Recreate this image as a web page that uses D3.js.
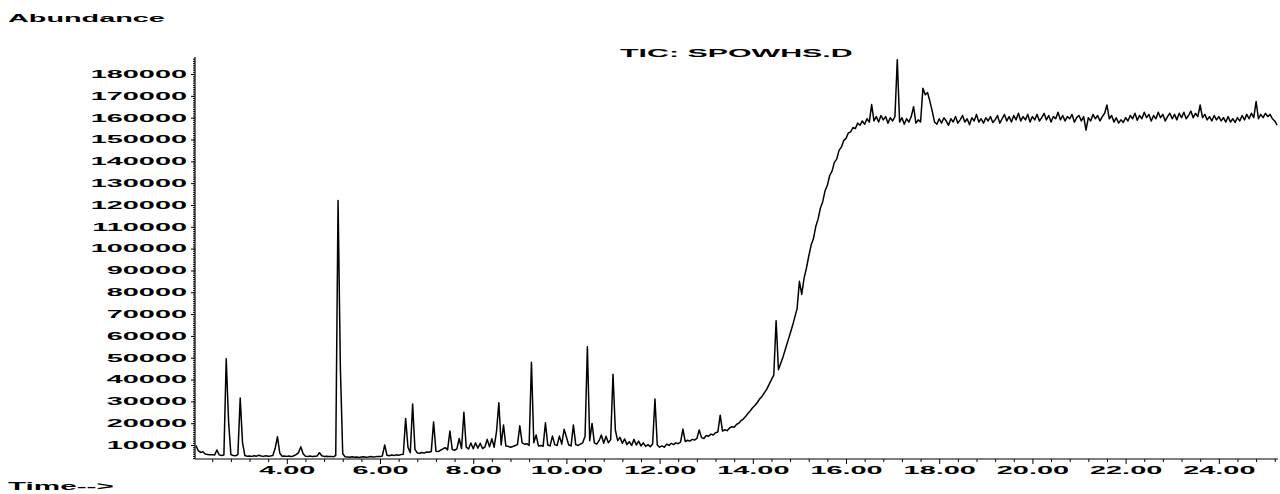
<!DOCTYPE html>
<html>
<head>
<meta charset="utf-8">
<script src="https://cdn.jsdelivr.net/npm/d3@7/dist/d3.min.js"></script>
<style>
  html, body { margin: 0; padding: 0; background: #fff; }
  svg { display: block; }
  text { font-family: "Liberation Sans", Arial, sans-serif; font-weight: bold; fill: #000; }
</style>
</head>
<body>
<svg id="chart" width="1280" height="494"></svg>
<script>
// Total ion chromatogram, one abundance reading per scan (minutes)
const retentionStart = 2.05;
const scanInterval = 0.05;

const abundance = [
  // 2.05 – 3.00
  9800, 7400, 6600, 6900, 5900, 5700, 5500, 5600, 5400, 7700, 5500, 5200, 5400, 49500, 21000, 5600, 5200, 5100, 5600, 31500,
  // 3.05 – 4.00
  11000, 5200, 4900, 5000, 4800, 5100, 4900, 5300, 5000, 4800, 5100, 4900, 5000, 5200, 8500, 13800, 6200, 4900, 5000, 4800,
  // 4.05 – 5.00
  5000, 4700, 5100, 5600, 6500, 9200, 6000, 4900, 4800, 5000, 4700, 4900, 5000, 6500, 5100, 4800, 4900, 4700, 4800, 4600,
  // 5.05 – 6.00
  5200, 122000, 45000, 6000, 4600, 4500, 4400, 4600, 4400, 4500, 4300, 4500, 4600, 4400, 4500, 4700, 4500, 4600, 4800, 4700,
  // 6.05 – 7.00
  5000, 10000, 5300, 5100, 5400, 5200, 5500, 5300, 5600, 5800, 22200, 9000, 6500, 28800, 8000, 6400, 6200, 6600, 6300, 6800,
  // 7.05 – 8.00
  6700, 7000, 20600, 7200, 7000, 7600, 8200, 8800, 7800, 16400, 8000, 7600, 8200, 13000, 8400, 25000, 9000, 8200, 10900, 8300,
  // 8.05 – 9.00
  11000, 8500, 10800, 8400, 9000, 12600, 9200, 12900, 9000, 16100, 29400, 10000, 19200, 9600, 9400, 9000, 9300, 9800, 10200, 18800,
  // 9.05 – 10.00
  11000, 10400, 10600, 9800, 47900, 11000, 14600, 9600, 9800, 9400, 20200, 10000, 9600, 14100, 10200, 9800, 14100, 10400, 17200, 13700,
  // 10.05 – 11.00
  10000, 9600, 19200, 10200, 9800, 10400, 11000, 14000, 55000, 12000, 19900, 11000, 10400, 12000, 14600, 10800, 14000, 11000, 12500, 42400,
  // 11.05 – 12.00
  16900, 12000, 13500, 10800, 12800, 10200, 11500, 9800, 12600, 10000, 11800, 9600, 11000, 9400, 10200, 9200, 10500, 31100, 10000, 9000,
  // 12.05 – 13.00
  9600, 9000, 10400, 9800, 10800, 10200, 11000, 10600, 11400, 17300, 11600, 12200, 11800, 12600, 12300, 13000, 16900, 13400, 13000, 14400,
  // 13.05 – 14.00
  14000, 15000, 14600, 15600, 16000, 23700, 16400, 17000, 16600, 17800, 18400, 18200, 19400, 20000, 21200, 22000, 23200, 24600, 25800, 27200,
  // 14.05 – 15.00
  28200, 29600, 31200, 32400, 34000, 35600, 37800, 40000, 42000, 67000, 44500, 47500, 50500, 54000, 57500, 61000, 64500, 68500, 72500, 85000,
  // 15.05 – 16.00
  79000, 86500, 91000, 96500, 101500, 104500, 110000, 113500, 118500, 121500, 126500, 129000, 133500, 135500, 139500, 141000, 145000, 146500, 149500, 150500,
  // 16.05 – 17.00
  153000, 153500, 155500, 155000, 157500, 156500, 158500, 157000, 159500, 158000, 166000, 158500, 160500, 158000, 161000, 159000, 160500, 157500, 160000, 158500,
  // 17.05 – 18.00
  160500, 186500, 158000, 160000, 157000, 159500, 158000, 160500, 165000, 157500, 159000, 158000, 173500, 170500, 171500, 167500, 163000, 158000, 157000, 159500,
  // 18.05 – 19.00
  157500, 160000, 158500, 156500, 159500, 158000, 160500, 157500, 159000, 161000, 158000, 159500, 156800, 160000, 158500, 161500, 158000, 159500, 157500, 160000,
  // 19.05 – 20.00
  158500, 160500, 157800, 159000, 161000, 157500, 159500, 161500, 158500, 160500, 158000, 161000, 159000, 162000, 158500, 160500, 159000, 161500, 158000, 160500,
  // 20.05 – 21.00
  159000, 161500, 158500, 160000, 162000, 159000, 161000, 158000, 160500, 159500, 162500, 159000, 161000, 158500, 160500, 159500, 161500, 158000, 160000, 161000,
  // 21.05 – 22.00
  158500, 160500, 154300, 160000, 158500, 161500, 159500, 161000, 158500, 160500, 162000, 165800, 159500, 161000, 158000, 160000, 157500, 159000, 157800, 160000,
  // 22.05 – 23.00
  158500, 161000, 159500, 162000, 158800, 161000, 159500, 162500, 160000, 161500, 158500, 161000, 159500, 162500, 160000, 161500, 158500, 160500, 162000, 159500,
  // 23.05 – 24.00
  161500, 159000, 162000, 160000, 162500, 159500, 161000, 163000, 160000, 162000, 160500, 165800, 160000, 161500, 159000, 160500, 158500, 161000, 159000, 160500,
  // 24.05 – 25.00
  158500, 160000, 158000, 160500, 158000, 159500, 157800, 160000, 158500, 161000, 159000, 161500, 159500, 162000, 160000, 167400, 159500, 161500, 160000, 162000,
  // 25.05 – 25.25
  160500, 161500, 159500, 158500, 156600
];

const yTickValues = [10000, 20000, 30000, 40000, 50000, 60000, 70000, 80000, 90000,
  100000, 110000, 120000, 130000, 140000, 150000, 160000, 170000, 180000];
const xTickValues = [4, 6, 8, 10, 12, 14, 16, 18, 20, 22, 24];
const xTickLabels = ["4.00", "6.00", "8.00", "10.00", "12.00", "14.00", "16.00", "18.00", "20.00", "22.00", "24.00"];

const titleText = "TIC: SPOWHS.D";
const yAxisTitle = "Abundance";
const xAxisTitle = "Time-->";

(function draw() {
  const svg = d3.select("#chart");
  const plotLeft = 195, plotRight = 1278, plotTop = 57, plotBottom = 459;
  const stretch = 2.75; // wide, extended lettering

  const x = d3.scaleLinear().domain([2.03, 25.27]).range([plotLeft, plotRight]);
  const y = d3.scaleLinear().domain([3600, 187800]).range([plotBottom, plotTop]);

  // Minor y ticks (dense, give the axis a dotted look)
  svg.append("g")
    .attr("transform", `translate(${plotLeft},0)`)
    .call(d3.axisLeft(y).tickValues(d3.range(4000, 188000, 1000)).tickSize(2).tickSizeOuter(0).tickFormat(""))
    .call(g => g.select(".domain").remove());

  // Major y ticks with labels
  const gY = svg.append("g")
    .attr("transform", `translate(${plotLeft},0)`)
    .call(d3.axisLeft(y).tickValues(yTickValues).tickSize(4).tickSizeOuter(0).tickFormat(d3.format("d")))
    .call(g => g.select(".domain").remove());
  gY.attr("font-family", null).attr("font-size", 10.5);
  gY.selectAll("text")
    .attr("x", -8 / stretch)
    .attr("transform", `scale(${stretch},1)`);

  // Minor x ticks every 0.4 min
  const minorX = d3.range(6, 64).map(k => +(k * 0.4).toFixed(1))
    .filter(v => Math.abs(v / 2 - Math.round(v / 2)) > 1e-6);
  svg.append("g")
    .attr("transform", `translate(0,${plotBottom})`)
    .call(d3.axisBottom(x).tickValues(minorX).tickSize(3).tickSizeOuter(0).tickFormat(""))
    .call(g => g.select(".domain").remove());

  // Major x ticks with labels
  const gX = svg.append("g")
    .attr("transform", `translate(0,${plotBottom})`)
    .call(d3.axisBottom(x).tickValues(xTickValues).tickSize(5).tickPadding(3).tickSizeOuter(0)
      .tickFormat((d, i) => xTickLabels[i]))
    .call(g => g.select(".domain").remove());
  gX.attr("font-family", null).attr("font-size", 10.5);
  gX.selectAll("text")
    .attr("transform", `scale(${stretch},1)`);

  // Axis lines
  svg.append("line").attr("x1", plotLeft).attr("x2", plotLeft).attr("y1", plotTop).attr("y2", plotBottom)
    .attr("stroke", "#000").attr("stroke-width", 1.2);
  svg.append("line").attr("x1", plotLeft).attr("x2", plotRight).attr("y1", plotBottom).attr("y2", plotBottom)
    .attr("stroke", "#000").attr("stroke-width", 1.2);

  // Chromatogram trace
  const line = d3.line()
    .x((d, i) => x(retentionStart + i * scanInterval))
    .y(d => y(d));
  svg.append("path")
    .datum(abundance)
    .attr("d", line)
    .attr("fill", "none")
    .attr("stroke", "#000")
    .attr("stroke-width", 1.5)
    .attr("stroke-linejoin", "round");

  // Titles
  function stretchedText(str, px, py, size, sx) {
    svg.append("text")
      .attr("transform", `translate(${px},${py}) scale(${sx},1)`)
      .attr("font-size", size)
      .text(str);
  }
  stretchedText(titleText, 620, 57, 11, 2.76);
  stretchedText(yAxisTitle, 8, 22, 11, 2.62);
  stretchedText(xAxisTitle, 8, 490, 11, 2.7);
})();
</script>
</body>
</html>
